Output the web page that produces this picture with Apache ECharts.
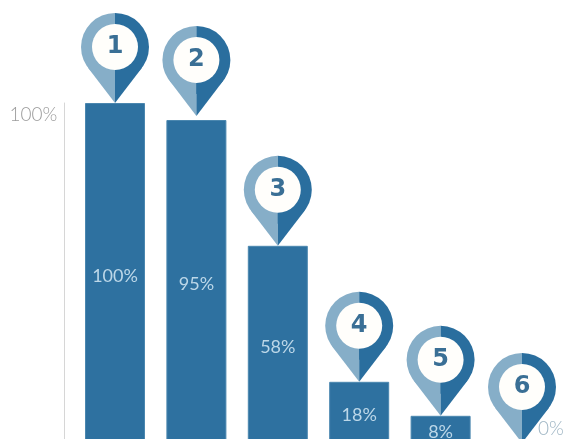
<!DOCTYPE html>
<html>
<head>
<meta charset="utf-8">
<style>html,body{margin:0;padding:0;background:#fff;overflow:hidden}#chart{width:576px;height:439px}</style>
<script src="https://cdn.jsdelivr.net/npm/echarts@6/dist/echarts.min.js"></script>
</head>
<body>
<div id="chart"></div>
<script>
const ranks = ['1', '2', '3', '4', '5', '6'];
const shares = [100, 95, 58, 18, 8, 0];
// Where each marker's tip rests, on the same percentage scale as the bars.
const pinTips = [100, 96.2, 58, 18, 8, 0];
const axisTicks = { 100: '100%' };

const BAR = '#2e71a0', PIN_DARK = '#2a6e9e', PIN_LIGHT = '#86aec8';
const R = 34, TIP = 56, HOLE = 23;
const TX = R * Math.sqrt(1 - (R / TIP) * (R / TIP)), TY = R * R / TIP;

function renderPin(params, api) {
  const tip = api.coord([api.value(0), api.value(1)]);
  const cx = tip[0], cy = tip[1] - TIP;
  const half = (color, sign, start, end) => [
    { type: 'sector', shape: { cx, cy, r: R, r0: 0, startAngle: start, endAngle: end, clockwise: true }, style: { fill: color } },
    { type: 'polygon', shape: { points: [[cx, cy], [cx + sign * TX, cy + TY], [cx, cy + TIP]] }, style: { fill: color } }
  ];
  return {
    type: 'group',
    children: [
      ...half(PIN_LIGHT, -1, Math.PI / 2, Math.PI * 1.5),
      ...half(PIN_DARK, 1, -Math.PI / 2, Math.PI / 2),
      { type: 'circle', shape: { cx, cy, r: HOLE }, style: { fill: '#fffefb' } },
      { type: 'text', style: { x: cx, y: cy, text: ranks[params.dataIndex], align: 'center', verticalAlign: 'middle',
          fill: '#3a6f95', font: 'bold 24px "DejaVu Sans"' } }
    ]
  };
}

const chart = echarts.init(document.getElementById('chart'), null, { renderer: 'canvas' });
chart.setOption({
  animation: false,
  grid: { left: 74.3, width: 488.4, top: 103, height: 340, outerBoundsMode: 'none', containLabel: false },
  xAxis: {
    type: 'category', data: ranks,
    axisLine: { show: false }, axisTick: { show: false }, axisLabel: { show: false }
  },
  yAxis: {
    type: 'value', min: 0, max: 100, interval: 100, offset: 10,
    splitLine: { show: false }, axisTick: { show: false },
    axisLine: { show: true, lineStyle: { color: '#d6d6d6', width: 1 } },
    axisLabel: {
      margin: 7, verticalAlign: 'top', color: '#9c9c9c', padding: [2, 0, 0, 0],
      fontFamily: 'Lato', fontWeight: 300, fontSize: 19,
      formatter: v => axisTicks[v] || ''
    }
  },
  series: [
    {
      type: 'bar', barWidth: 60,
      data: shares.map((v, i) => i === shares.length - 1
        ? { value: v, label: { color: '#9db4c3', fontWeight: 300, fontSize: 19, offset: [29, -14] } }
        : v),
      itemStyle: { color: BAR, borderColor: '#4b87af', borderWidth: 1 },
      label: {
        show: true, position: 'inside', offset: [0, 3], color: '#bcd7e8',
        fontFamily: 'Lato', fontSize: 18, formatter: '{c}%'
      }
    },
    {
      type: 'custom', renderItem: renderPin, clip: false, z: 5,
      encode: { x: 0, y: 1 },
      data: pinTips.map((v, i) => [i, v])
    }
  ]
});
</script>
</body>
</html>
